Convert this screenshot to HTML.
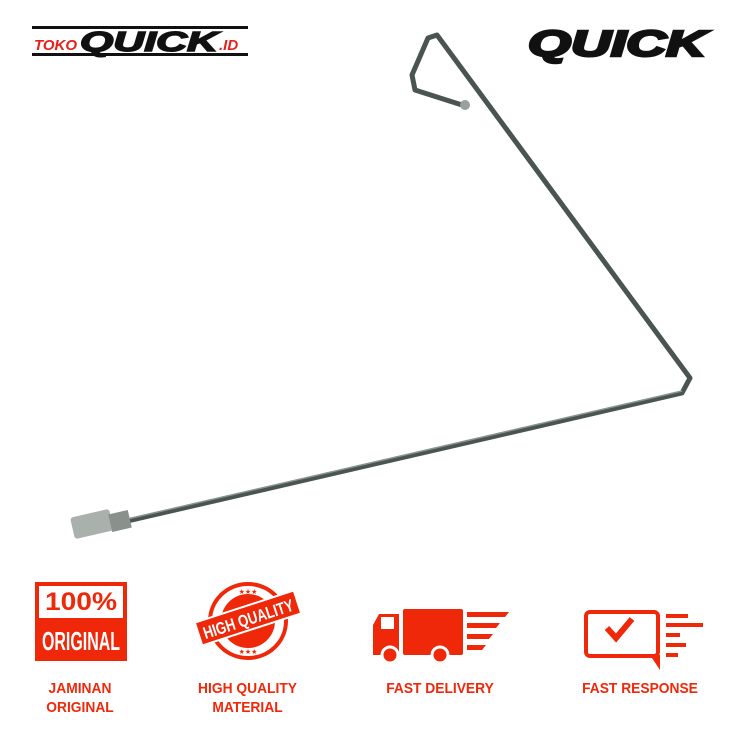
<!DOCTYPE html>
<html><head><meta charset="utf-8"><style>
body{margin:0;width:740px;height:740px;background:#fff;overflow:hidden;position:relative;font-family:"Liberation Sans",sans-serif}
.t{position:absolute;color:#f0280a;font-weight:bold;font-size:15px;text-align:center;line-height:19px;transform:scaleX(0.92)}
</style></head><body>
<svg width="740" height="740" style="position:absolute;left:0;top:0">
<rect x="32" y="26" width="216" height="3" fill="#111"/>
<rect x="32" y="53" width="216" height="3" fill="#111"/>
<text x="34" y="50" font-family="Liberation Sans" font-weight="bold" font-style="italic" font-size="15" fill="#e8201a">TOKO</text>
<text x="80" y="51" font-family="Liberation Sans" font-weight="bold" font-style="italic" font-size="28" fill="#111" stroke="#111" stroke-width="1.5" textLength="138" lengthAdjust="spacingAndGlyphs">QUICK</text>
<text x="219" y="50" font-family="Liberation Sans" font-weight="bold" font-style="italic" font-size="15" fill="#e8201a">.ID</text>
<text x="528" y="56" font-family="Liberation Sans" font-weight="bold" font-style="italic" font-size="36" fill="#111" stroke="#111" stroke-width="2.5" textLength="178" lengthAdjust="spacingAndGlyphs">QUICK</text>
<polyline points="110,525 682,393 690,378 437,35 428,38 412,75 415,90 462,105" fill="none" stroke="#4a5450" stroke-width="5" stroke-linejoin="round"/>
<polyline points="110,523 682,391" fill="none" stroke="#8a9490" stroke-width="1.5"/>
<rect x="72" y="513" width="40" height="22" rx="3" fill="#aab0ac" transform="rotate(-13 92 524)"/>
<rect x="110" y="512" width="20" height="18" fill="#8a908c" transform="rotate(-13 120 521)"/>
<circle cx="465" cy="105" r="5" fill="#9aa09c"/>
<!-- icon 1 -->
<rect x="37" y="584" width="88" height="75" fill="none" stroke="#f0280a" stroke-width="4"/>
<text x="81" y="610" text-anchor="middle" font-family="Liberation Sans" font-weight="bold" font-size="25" fill="#f0280a" textLength="72" lengthAdjust="spacingAndGlyphs">100%</text>
<rect x="37" y="618" width="88" height="42" fill="#f0280a"/>
<text x="81" y="650" text-anchor="middle" font-family="Liberation Sans" font-weight="bold" font-size="26" fill="#fff" textLength="78" lengthAdjust="spacingAndGlyphs">ORIGINAL</text>
<!-- stamp -->
<ellipse cx="248" cy="621" rx="38" ry="37" fill="none" stroke="#f0280a" stroke-width="4"/>
<circle cx="248" cy="621" r="27" fill="#f0280a"/>
<g transform="rotate(-18 248 618)">
<rect x="196" y="606" width="104" height="24" fill="#f0280a" stroke="#fff" stroke-width="2"/>
<text x="248" y="625" text-anchor="middle" font-family="Liberation Sans" font-weight="bold" font-size="17" fill="#fff" textLength="94" lengthAdjust="spacingAndGlyphs">HIGH QUALITY</text>
</g>
<text x="248" y="594" text-anchor="middle" font-size="7" fill="#f0280a">★★★</text>
<text x="248" y="654" text-anchor="middle" font-size="7" fill="#f0280a">★★★</text>
<!-- truck -->
<path d="M373,625 L379,614 L399,614 L399,655 L373,655 Z" fill="#f0280a"/>
<rect x="381" y="617" width="13" height="12" fill="#fff"/>
<rect x="403" y="609" width="60" height="46" rx="2" fill="#f0280a"/>
<circle cx="390" cy="655" r="8" fill="#f0280a" stroke="#fff" stroke-width="3"/>
<circle cx="440" cy="655" r="8" fill="#f0280a" stroke="#fff" stroke-width="3"/>
<path d="M467,612h42l-4,5h-38zM467,623h33l-4,5h-29zM467,634h26l-4,5h-22zM467,645h19l-4,5h-15z" fill="#f0280a"/>
<!-- response -->
<rect x="586" y="612" width="72" height="44" rx="4" fill="none" stroke="#f0280a" stroke-width="4"/>
<path d="M650,655 l10,15 v-15z" fill="#f0280a"/>
<path d="M607,628 l9,10 l16,-19" fill="none" stroke="#f0280a" stroke-width="6"/>
<path d="M666,614h22v4h-22zM666,623h37v4h-37zM666,633h14v4h-14zM666,643h20v4h-20zM666,653h12v4h-12z" fill="#f0280a"/>
</svg>
<div class="t" style="left:25px;top:679px;width:110px">JAMINAN<br>ORIGINAL</div>
<div class="t" style="left:180px;top:679px;width:135px">HIGH QUALITY<br>MATERIAL</div>
<div class="t" style="left:370px;top:679px;width:140px">FAST DELIVERY</div>
<div class="t" style="left:565px;top:679px;width:150px">FAST RESPONSE</div>
</body></html>
